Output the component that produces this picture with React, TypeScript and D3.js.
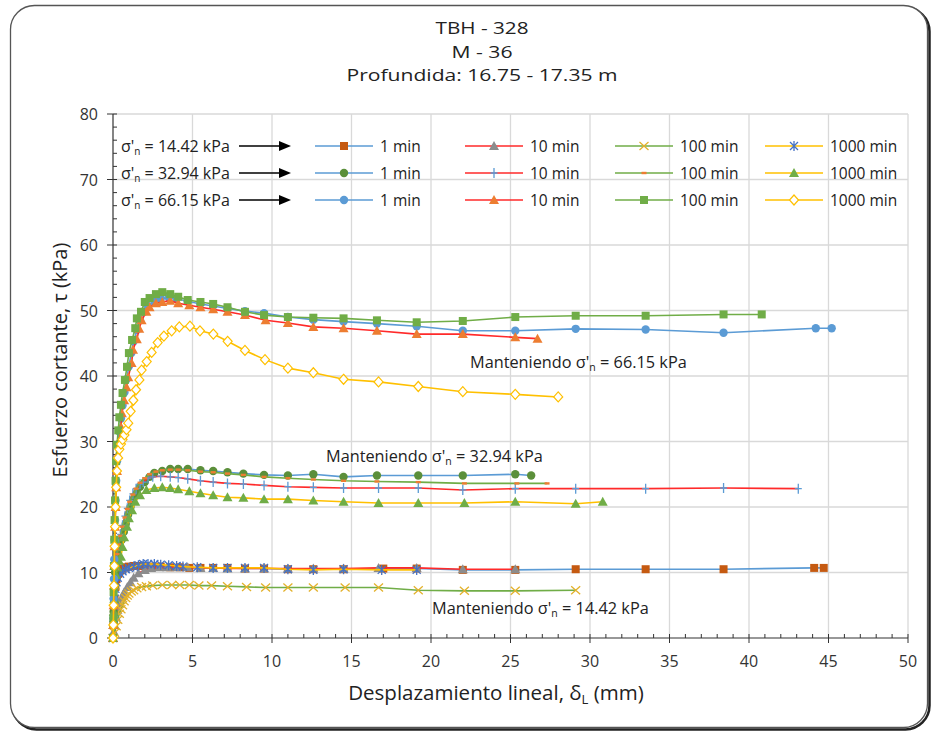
import React from "react";
import * as d3 from "d3";

type P = [number, number];

const titleLines = ["TBH - 328", "M - 36", "Profundida: 16.75 - 17.35 m"];
const titleWidths = [93, 61, 271];
const xTicks = [0, 5, 10, 15, 20, 25, 30, 35, 40, 45, 50];
const yTicks = [0, 10, 20, 30, 40, 50, 60, 70, 80];
const stressLabels = ["14.42", "32.94", "66.15"];
const timeLabels = ["1 min", "10 min", "100 min", "1000 min"];

// sigma'n = 14.42 kPa
const a1: P[] = [[0,0],[0.03,2],[0.06,4],[0.1,6],[0.15,7.8],[0.22,9],[0.32,9.8],[0.45,10.3],[0.6,10.6],[0.8,10.8],[1.0,10.9],[1.3,11],[1.6,11],[2.0,11],[2.5,10.9],[3.0,10.9],[3.6,10.8],[4.2,10.8],[4.8,10.7],[5.5,10.7],[6.3,10.7],[7.2,10.7],[8.3,10.6],[9.5,10.6],[11,10.5],[12.6,10.5],[14.5,10.5],[17,10.6],[19.1,10.6],[22,10.4],[25.3,10.4],[29.1,10.5],[33.5,10.5],[38.4,10.5],[44.1,10.7],[44.7,10.7]];
const a10: P[] = [[0,0],[0.05,1],[0.1,2],[0.18,3.2],[0.28,4.3],[0.4,5.3],[0.55,6.2],[0.7,7],[0.9,7.8],[1.1,8.5],[1.3,9.2],[1.6,9.9],[2.0,10.4],[2.4,10.7],[2.9,10.8],[3.4,10.8],[4.0,10.8],[4.7,10.8],[5.5,10.7],[6.3,10.7],[7.2,10.6],[8.3,10.6],[9.5,10.6],[11,10.6],[12.6,10.6],[14.5,10.6],[16.7,10.7],[19.1,10.7],[22,10.5],[25.3,10.5]];
const a100: P[] = [[0,0],[0.1,0.8],[0.2,1.8],[0.3,2.8],[0.4,3.7],[0.5,4.4],[0.6,5.0],[0.7,5.6],[0.8,6.1],[0.9,6.5],[1.0,6.8],[1.15,7.1],[1.3,7.3],[1.5,7.6],[1.8,7.8],[2.1,7.9],[2.5,8.0],[3.1,8.1],[3.7,8.1],[4.2,8.1],[4.8,8.1],[5.4,8.0],[6.2,8.0],[7.2,7.9],[8.4,7.8],[9.6,7.7],[11,7.7],[12.6,7.7],[14.6,7.7],[16.7,7.7],[19.2,7.3],[22.1,7.2],[25.3,7.2],[29.1,7.3]];
const a1000: P[] = [[0,0],[0.03,2],[0.06,4],[0.1,6],[0.15,7.5],[0.22,8.5],[0.3,9.2],[0.45,9.8],[0.6,10.2],[0.8,10.5],[1.0,10.7],[1.3,10.9],[1.6,11.1],[1.9,11.3],[2.2,11.3],[2.6,11.3],[3.0,11.2],[3.5,11.1],[4.0,11],[4.4,10.9],[5.3,10.8],[6.3,10.7],[7.2,10.7],[8.3,10.7],[9.5,10.7],[11,10.5],[12.6,10.4],[14.5,10.5],[16.9,10.4],[19.1,10.4]];

// sigma'n = 32.94 kPa
const b1: P[] = [[0,0],[0.02,2],[0.04,4],[0.06,6],[0.09,8],[0.13,10],[0.2,11.5],[0.3,12.8],[0.44,13.9],[0.55,15],[0.68,16.2],[0.8,17.4],[0.95,18.8],[1.1,20],[1.26,21.1],[1.5,22.1],[1.7,23.1],[2.0,23.8],[2.3,24.6],[2.6,25.2],[3.1,25.5],[3.6,25.8],[4.1,25.8],[4.7,25.8],[5.5,25.6],[6.3,25.5],[7.2,25.3],[8.2,25.1],[9.5,24.9],[11,24.8],[12.6,25],[14.5,24.6],[16.6,24.8],[19.2,24.8],[22,24.8],[25.3,25],[26.3,24.8]];
const b10: P[] = [[0,0],[0.02,2],[0.05,4.5],[0.08,7],[0.12,9],[0.18,11],[0.26,12.8],[0.36,14.3],[0.48,15.8],[0.6,17.2],[0.75,18.6],[0.9,19.8],[1.05,21],[1.25,22],[1.45,22.8],[1.7,23.5],[1.9,23.8],[2.2,24.4],[2.5,24.6],[3.0,24.7],[3.6,24.6],[4.1,24.5],[4.7,24.3],[5.5,24],[6.3,23.8],[7.2,23.6],[8.2,23.5],[9.5,23.3],[11,23.1],[12.6,23],[14.5,22.9],[16.7,22.9],[19.2,22.9],[22,22.6],[25.3,22.8],[29.1,22.8],[33.5,22.8],[38.4,22.9],[43.1,22.8]];
const b100: P[] = [[0,0],[0.02,2],[0.05,4.5],[0.08,7],[0.12,9],[0.18,11],[0.26,12.8],[0.36,14.3],[0.48,15.6],[0.6,17],[0.75,18.4],[0.9,19.7],[1.05,20.8],[1.25,21.9],[1.45,22.8],[1.7,23.7],[2.0,24.4],[2.3,25],[2.7,25.4],[3.1,25.6],[3.6,25.7],[4.1,25.7],[4.7,25.6],[5.5,25.4],[6.3,25.3],[7.2,25.1],[8.2,24.9],[9.5,24.6],[11,24.4],[12.6,24.2],[14.5,24],[16.6,23.9],[19.2,23.8],[22.1,23.6],[25.4,23.6],[27.3,23.6]];
const b1000: P[] = [[0,0],[0.02,2],[0.05,4],[0.08,6],[0.12,8],[0.18,9.6],[0.26,10.8],[0.38,11.8],[0.5,12.4],[0.6,13.9],[0.7,15.4],[0.88,17],[1.0,18.3],[1.2,19.5],[1.4,20.8],[1.7,21.8],[2.1,22.6],[2.6,22.9],[3.1,23],[3.6,22.9],[4.1,22.7],[4.8,22.4],[5.5,22.1],[6.3,21.8],[7.2,21.5],[8.2,21.4],[9.5,21.2],[11,21.2],[12.6,21],[14.5,20.8],[16.7,20.6],[19.2,20.6],[22.1,20.6],[25.3,20.8],[29.1,20.5],[30.8,20.8]];

// sigma'n = 66.15 kPa
const c1: P[] = [[0,0],[0.02,3],[0.04,6],[0.06,9],[0.08,12],[0.1,15],[0.13,18],[0.16,21],[0.2,24],[0.25,27],[0.32,29.5],[0.4,31.5],[0.5,33.5],[0.6,35.5],[0.72,37.5],[0.85,39.5],[1.0,41.5],[1.15,43.5],[1.3,45.3],[1.5,47],[1.7,48.5],[1.95,49.8],[2.2,50.7],[2.6,51.4],[3.0,51.8],[3.5,52],[4.0,51.8],[4.7,51.4],[5.5,51],[6.3,50.7],[7.2,50.3],[8.3,49.9],[9.5,49.6],[11,49],[12.6,48.6],[14.5,48.3],[16.6,48],[19.1,47.6],[22,46.9],[25.3,46.9],[29.1,47.2],[33.5,47.1],[38.4,46.6],[44.2,47.3],[45.2,47.3]];
const c10: P[] = [[0,0],[0.02,2],[0.04,5],[0.06,8],[0.08,11],[0.1,14],[0.13,17],[0.16,20],[0.2,23],[0.25,25.5],[0.3,28],[0.4,30.2],[0.5,32.2],[0.56,34.3],[0.7,36.3],[0.85,38.3],[0.96,39.8],[1.17,42],[1.26,44],[1.5,45.6],[1.65,47.2],[1.8,48.5],[2.1,49.8],[2.3,50.5],[2.7,51.1],[3.1,51.3],[3.6,51.5],[4.1,51.1],[4.8,50.8],[5.5,50.5],[6.3,50.2],[7.2,49.8],[8.3,49.3],[9.6,48.5],[11,48.1],[12.6,47.5],[14.5,47.3],[16.6,46.9],[19.1,46.4],[22,46.4],[25.3,45.9],[26.7,45.7]];
const c100: P[] = [[0,0],[0.02,3],[0.04,7],[0.06,11],[0.08,15],[0.1,18],[0.13,21],[0.16,24],[0.2,27],[0.25,29.5],[0.33,31.7],[0.4,33.7],[0.5,35.6],[0.6,37.4],[0.75,39.4],[0.88,41.4],[1.0,43.5],[1.2,45.5],[1.4,47.3],[1.5,48.8],[1.76,49.8],[2.0,51.3],[2.3,51.9],[2.7,52.5],[3.1,52.8],[3.6,52.5],[4.1,52.1],[4.7,51.6],[5.5,51.3],[6.3,51],[7.2,50.5],[8.3,49.8],[9.5,49.3],[11,49],[12.6,48.9],[14.5,48.8],[16.6,48.5],[19.1,48.2],[22,48.4],[25.3,49],[29.1,49.2],[33.5,49.2],[38.4,49.4],[40.8,49.4]];
const c1000: P[] = [[0,0],[0.02,2],[0.04,5],[0.06,8],[0.08,11],[0.1,14],[0.13,17],[0.16,20],[0.2,23],[0.25,25.5],[0.32,27.5],[0.4,28.8],[0.5,29.6],[0.6,30.3],[0.72,31],[0.85,31.8],[0.96,32.8],[1.11,34.6],[1.28,36.3],[1.45,37.9],[1.66,39.4],[1.8,40.9],[2.12,42.2],[2.43,43.6],[2.81,45.1],[3.2,46.1],[3.69,46.9],[4.17,47.5],[4.84,47.6],[5.47,46.9],[6.31,46.4],[7.21,45.3],[8.3,43.9],[9.56,42.5],[11.0,41.2],[12.6,40.5],[14.5,39.5],[16.7,39.1],[19.2,38.4],[22,37.6],[25.3,37.2],[28.0,36.8]];

const BLUE = "#5B9BD5", RED = "#FF2A2A", GREEN = "#70AD47", GOLD = "#FFC000";

type Mk = "square" | "triangle" | "x" | "asterisk" | "circle" | "plus" | "dash" | "diamond";
interface S { data: P[]; line: string; marker: Mk; mc: string; }

const series: S[][] = [
  [
    { data: a1, line: BLUE, marker: "square", mc: "#C55A11" },
    { data: a10, line: RED, marker: "triangle", mc: "#8C8C8C" },
    { data: a100, line: GREEN, marker: "x", mc: "#E3B12B" },
    { data: a1000, line: GOLD, marker: "asterisk", mc: "#4472C4" },
  ],
  [
    { data: b1, line: BLUE, marker: "circle", mc: "#5B8F3A" },
    { data: b10, line: RED, marker: "plus", mc: BLUE },
    { data: b100, line: GREEN, marker: "dash", mc: "#ED7D31" },
    { data: b1000, line: GOLD, marker: "triangle", mc: GREEN },
  ],
  [
    { data: c1, line: BLUE, marker: "circle", mc: BLUE },
    { data: c10, line: RED, marker: "triangle", mc: "#ED7D31" },
    { data: c100, line: GREEN, marker: "square", mc: GREEN },
    { data: c1000, line: GOLD, marker: "diamond", mc: GOLD },
  ],
];

function Marker({ t, x, y, c }: { t: Mk; x: number; y: number; c: string }) {
  switch (t) {
    case "square":
      return <rect x={x - 4} y={y - 4} width={8} height={8} fill={c} />;
    case "triangle":
      return <path d={`M${x},${y - 5}L${x + 5},${y + 4}L${x - 5},${y + 4}Z`} fill={c} />;
    case "circle":
      return <circle cx={x} cy={y} r={4.2} fill={c} />;
    case "x":
      return <path d={`M${x - 4.5},${y - 4}L${x + 4.5},${y + 4}M${x - 4.5},${y + 4}L${x + 4.5},${y - 4}`} stroke={c} strokeWidth={1.3} fill="none" />;
    case "asterisk":
      return <path d={`M${x - 4},${y - 4}L${x + 4},${y + 4}M${x - 4},${y + 4}L${x + 4},${y - 4}M${x},${y - 5}L${x},${y + 5}`} stroke={c} strokeWidth={1.3} fill="none" />;
    case "plus":
      return <path d={`M${x - 3.5},${y}L${x + 3.5},${y}M${x},${y - 5}L${x},${y + 5}`} stroke={c} strokeWidth={1.3} fill="none" />;
    case "dash":
      return <rect x={x - 2.5} y={y - 1.2} width={5} height={2.4} fill={c} />;
    case "diamond":
      return <path d={`M${x},${y - 5}L${x + 4.5},${y}L${x},${y + 5}L${x - 4.5},${y}Z`} fill="#fff" stroke={c} strokeWidth={1.2} />;
  }
  return null;
}

const W = 934, H = 734;
const L = 113, R = 908, T = 114, B = 638;
const FONT = "'Open Sans', 'Noto Sans', sans-serif";

export default function App() {
  const x = d3.scaleLinear().domain([0, 50]).range([L, R]);
  const y = d3.scaleLinear().domain([0, 80]).range([B, T]);
  const line = d3.line<P>().x((d) => x(d[0])).y((d) => y(d[1]));
  const xMinor = d3.range(0, 51, 1);
  const yMinor = d3.range(0, 81, 2);

  const legendRows = [146, 173, 200];
  const legendCols = [315, 465, 615, 765];

  const annot = [
    { v: "66.15", x: 470, y: 368, sp: " " },
    { v: "32.94", x: 326, y: 462, sp: "" },
    { v: "14.42", x: 432, y: 614, sp: "" },
  ];

  return (
    <svg width={W} height={H} style={{ position: "absolute", left: 0, top: 0, display: "block" }} fontFamily={FONT}>
      <rect x={0} y={0} width={W} height={H} fill="#fff" />
      <rect x={12.5} y={7.5} width={917} height={722} rx={24} fill="none" stroke="#222" strokeWidth={2.5} />
      <rect x={10.5} y={5.5} width={917} height={722} rx={24} fill="#fff" stroke="#555" strokeWidth={1.3} />

      {titleLines.map((t, i) => (
        <text key={i} x={482} y={34 + i * 23.5} textAnchor="middle" fontSize={17} fill="#222"
          textLength={titleWidths[i]} lengthAdjust="spacingAndGlyphs">{t}</text>
      ))}

      {/* grid */}
      {xTicks.slice(1).map((t) => (
        <line key={"gx" + t} x1={x(t)} x2={x(t)} y1={T} y2={B} stroke="#D9D9D9" strokeWidth={1.3} />
      ))}
      {yTicks.slice(1).map((t) => (
        <line key={"gy" + t} x1={L} x2={R} y1={y(t)} y2={y(t)} stroke="#D9D9D9" strokeWidth={1.3} />
      ))}

      {/* axes */}
      <line x1={L} x2={R} y1={B} y2={B} stroke="#333" strokeWidth={1.2} />
      <line x1={L} x2={L} y1={T} y2={B} stroke="#333" strokeWidth={1.2} />
      {xMinor.map((t) => (
        <line key={"xm" + t} x1={x(t)} x2={x(t)} y1={B - 4} y2={t % 5 === 0 ? B + 5 : B} stroke="#333" strokeWidth={1} />
      ))}
      {yMinor.map((t) => (
        <line key={"ym" + t} x1={t % 10 === 0 ? L - 6 : L} x2={L + 4} y1={y(t)} y2={y(t)} stroke="#333" strokeWidth={1} />
      ))}
      {xTicks.map((t) => (
        <text key={"xl" + t} x={x(t)} y={B + 29} textAnchor="middle" fontSize={16} fill="#333">{t}</text>
      ))}
      {yTicks.map((t) => (
        <text key={"yl" + t} x={L - 15} y={y(t) + 6} textAnchor="end" fontSize={16} fill="#333">{t}</text>
      ))}
      <text x={496} y={700} textAnchor="middle" fontSize={20.5} fill="#222">
        Desplazamiento lineal, δ<tspan fontSize={13} dy={4}>L</tspan><tspan dy={-4}> (mm)</tspan>
      </text>
      <text transform={`translate(67,360) rotate(-90)`} textAnchor="middle" fontSize={20} fill="#222">
        Esfuerzo cortante, τ (kPa)
      </text>

      {/* series */}
      {series.flat().map((s, i) => (
        <g key={"s" + i}>
          <path d={line(s.data) || ""} fill="none" stroke={s.line} strokeWidth={1.6} />
          {s.data.map((d, j) => (
            <Marker key={j} t={s.marker} x={x(d[0])} y={y(d[1])} c={s.mc} />
          ))}
        </g>
      ))}

      {/* legend */}
      {legendRows.map((ry, r) => (
        <g key={"lr" + r}>
          <text x={121} y={ry + 5.5} fontSize={16} fill="#222">
            σ'<tspan fontSize={10} dy={3}>n</tspan><tspan dy={-3}> = {stressLabels[r]} kPa</tspan>
          </text>
          <line x1={239} x2={280} y1={ry} y2={ry} stroke="#000" strokeWidth={1.4} />
          <path d={`M279,${ry - 5}L291,${ry}L279,${ry + 5}Z`} fill="#000" />
          {legendCols.map((cx, c) => {
            const s = series[r][c];
            return (
              <g key={"lc" + c}>
                <line x1={cx} x2={cx + 58} y1={ry} y2={ry} stroke={s.line} strokeWidth={1.6} />
                <Marker t={s.marker} x={cx + 29} y={ry} c={s.mc} />
                <text x={cx + 65} y={ry + 5.5} fontSize={15.5} fill="#222">{timeLabels[c]}</text>
              </g>
            );
          })}
        </g>
      ))}

      {/* annotations */}
      {annot.map((a, i) => (
        <text key={"an" + i} x={a.x} y={a.y} fontSize={16.3} fill="#222">
          Manteniendo σ'<tspan fontSize={10.5} dy={3}>n</tspan><tspan dy={-3}> ={a.sp} {a.v} kPa</tspan>
        </text>
      ))}
    </svg>
  );
}
